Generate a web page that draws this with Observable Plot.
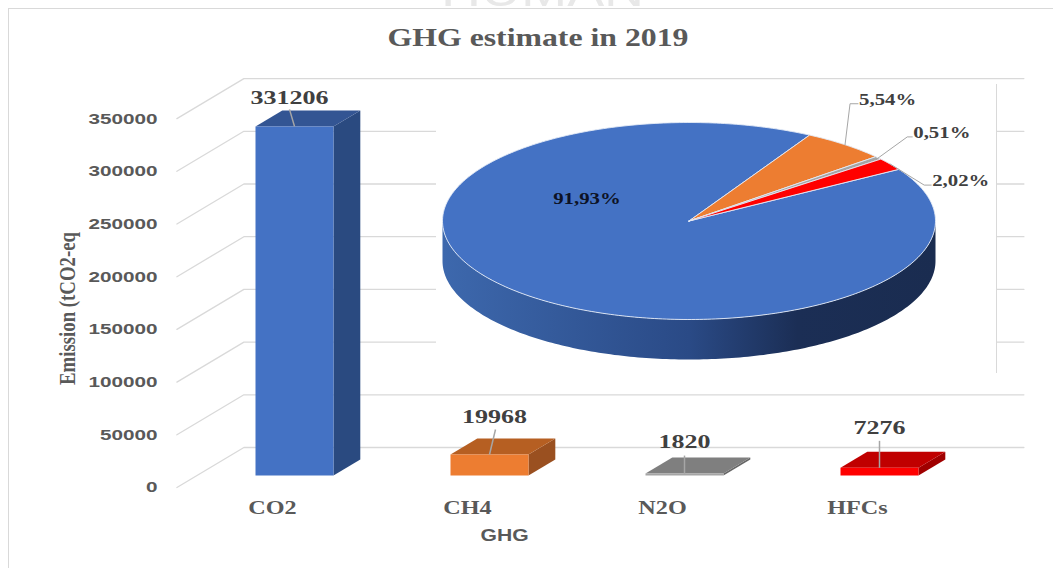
<!DOCTYPE html>
<html>
<head>
<meta charset="utf-8">
<script src="https://cdn.jsdelivr.net/npm/d3@7"></script>
<script src="https://cdn.jsdelivr.net/npm/@observablehq/plot@0.6"></script>
<style>
  html, body { margin: 0; padding: 0; background: #fff; }
  #page { position: relative; width: 1053px; height: 568px; overflow: hidden; }
  #edge { position: absolute; left: 8px; top: 8px; right: 0; bottom: 0;
          border-left: 1.5px solid #d9d9d9; border-top: 1.5px solid #d9d9d9; }
  #page svg { position: absolute; }
</style>
</head>
<body>
<div id="page"><div id="edge"></div></div>
<script>
// Emissions by gas
const gases = ["CO2", "CH4", "N2O", "HFCs"];
const emissions = [331206, 19968, 1820, 7276];
const yTicks = [0, 50000, 100000, 150000, 200000, 250000, 300000, 350000];

// Share of the total by gas
const shares = [91.93, 5.54, 0.51, 2.02];
const shareLabels = ["91,93%", "5,54%", "0,51%", "2,02%"];

// Fill colours of each gas: front, top and side faces
const frontColors = ["#4472c4", "#ed7d31", "#a5a5a5", "#ff0000"];
const topColors = ["#335593", "#b65f22", "#7f7f7f", "#c00000"];
const sideColors = ["#2a4a80", "#9a5020", "#666666", "#a00000"];

const titleText = "GHG estimate in 2019";
const yTitle = "Emission (tCO2-eq";
const xTitle = "GHG";
const serif = "'Liberation Serif', serif";
const sans = "'Liberation Sans', sans-serif";
const gray = "#595959";

// Scales of the column chart
const xDomain = [0, 3], xRange = [294, 879];
const yDomain = [0, 350000], yRange = [475, 106.1];
const pxPerX = (xRange[1] - xRange[0]) / (xDomain[1] - xDomain[0]);
const pxPerY = (yRange[0] - yRange[1]) / (yDomain[1] - yDomain[0]);

// Oblique projection: one depth unit moves a point 26.8px right and 16px up
const depthX = 26.8 / pxPerX, depthY = 16 / pxPerY;
const halfWidth = 39 / pxPerX;
const project = (i, v, t) => ({x: i + t * depthX, y: v + t * depthY});

// Floor front edge, back wall and right end of the value grid
const gridLines = yTicks.flatMap((v) => [
  {...project(-0.5, v, -0.75), z: v},
  {...project(-0.5, v, 1.75), z: v},
  {...project(3.5, v, 1.75), z: v}
]);

// The three visible faces of a column
const faces = gases.flatMap((g, k) => {
  const a = k - halfWidth, b = k + halfWidth, v = emissions[k];
  const face = (name, color, pts) =>
    [...pts, pts[0]].map((p) => ({...p, z: g + name, color}));
  return [
    ...face("side", sideColors[k], [project(b, 0, 0), project(b, 0, 1), project(b, v, 1), project(b, v, 0)]),
    ...face("top", topColors[k], [project(a, v, 0), project(a, v, 1), project(b, v, 1), project(b, v, 0)]),
    ...face("front", frontColors[k], [project(a, 0, 0), project(a, v, 0), project(b, v, 0), project(b, 0, 0)])
  ];
});

// Value label placement, in pixels from the top of each column's front face
const leaderEnd = [[-5, 17], [6, 25], [0, 18], [0, 27]];
const labelShift = [[-5, -29], [5, -38], [0, -32], [0, -40]];

const columnRows = gases.map((g, k) => ({
  k, value: emissions[k],
  tipX: k + leaderEnd[k][0] / pxPerX,
  tipY: emissions[k] + leaderEnd[k][1] / pxPerY
}));

const chart = Plot.plot({
  width: 1053,
  height: 568,
  marginLeft: 157,
  marginRight: 0,
  marginTop: 0,
  marginBottom: 73,
  style: {background: "transparent", left: "0", top: "0"},
  x: {domain: xDomain, range: xRange},
  y: {domain: yDomain, range: yRange},
  color: {type: "identity"},
  marks: [
    Plot.line(gridLines, {x: "x", y: "y", z: "z", stroke: "#d9d9d9", strokeWidth: 1.3}),
    Plot.line(faces, {x: "x", y: "y", z: "z", fill: "color", stroke: "none"}),
    Plot.link(columnRows, {x1: "k", y1: "value", x2: "tipX", y2: "tipY", stroke: "#a6a6a6", strokeWidth: 1.5}),
    ...columnRows.map((d) => Plot.text([d], {
      x: "k", y: "value", text: (r) => String(r.value),
      dx: labelShift[d.k][0], dy: labelShift[d.k][1],
      fontFamily: serif, fontWeight: 700, fontSize: 19, fill: "#404040"
    })),
    Plot.axisY({
      anchor: "left", ticks: yTicks, tickSize: 0, tickPadding: 0, label: null, dy: 12,
      tickFormat: (v) => String(v), fontFamily: sans, fontWeight: 700, fontSize: 15.5, color: gray
    }),
    Plot.axisX({
      anchor: "bottom", ticks: [0, 1, 2, 3], tickSize: 0, tickPadding: 5, label: null, dx: -22,
      tickFormat: (i) => gases[i], fontFamily: serif, fontWeight: 700, fontSize: 19.5, color: gray
    }),
    Plot.text([titleText], {x: 1, y: 350000, text: (d) => d, dx: 48.5, dy: -69,
      fontFamily: serif, fontWeight: 700, fontSize: 26, fill: gray}),
    Plot.text([yTitle], {x: 0, y: 0, text: (d) => d, dx: -227, dy: -167, rotate: -90,
      fontFamily: serif, fontWeight: 700, fontSize: 24, fill: gray}),
    Plot.text([xTitle], {x: 1, y: 0, text: (d) => d, dx: 15, dy: 60,
      fontFamily: sans, fontWeight: 700, fontSize: 16, fill: gray}),
    Plot.text(["HUMAN"], {x: 1, y: 350000, text: (d) => d, dx: 53, dy: -101, lineAnchor: "bottom",
      fontFamily: sans, fontSize: 44, fill: "#e8e8e8"})
  ]
});

// Pie inset: a unit circle squashed into an ellipse by its own scales
const pieSize = {width: 560, height: 289};
const pieX = {domain: [-1, 1], range: [6, 499]};
const pieY = {domain: [-1, 1], range: [235, 38]};
const uX = 2 / 493, uY = 2 / 197;
const pieDepth = 40 * uY;

// The first slice ends about 29 degrees clockwise of north
const firstEnd = 29.3 * Math.PI / 180;
const firstStart = firstEnd - 2 * Math.PI * shares[0] / 100;
const arcs = d3.pie().sort(null).value((d) => d)
  .startAngle(firstStart).endAngle(firstStart + 2 * Math.PI)(shares);

const onRim = (a) => ({x: Math.sin(a), y: Math.cos(a)});
const arcPoints = (a0, a1) => {
  const n = Math.max(2, Math.ceil(Math.abs(a1 - a0) * 60));
  return d3.range(n + 1).map((j) => onRim(a0 + (a1 - a0) * j / n));
};

const slices = arcs.flatMap((arc, k) =>
  [{x: 0, y: 0}, ...arcPoints(arc.startAngle, arc.endAngle), {x: 0, y: 0}]
    .map((p) => ({...p, z: k, color: frontColors[k]})));

// Rim wall below the front half of the ellipse
const rimTop = arcPoints(Math.PI / 2, 3 * Math.PI / 2);
const rimWall = [...rimTop, ...rimTop.slice().reverse().map((p) => ({x: p.x, y: p.y - pieDepth}))];

// Callouts, in pixels from the middle of each slice's rim
const calloutBends = [null, [[5, -41], [13, -41]], [[29, -21], [34, -21]], [[34, 21], [41, 21]]];
const callouts = arcs.flatMap((arc, k) => {
  if (!calloutBends[k]) return [];
  const start = onRim((arc.startAngle + arc.endAngle) / 2);
  const pts = calloutBends[k].map(([dx, dy]) => ({x: start.x + dx * uX, y: start.y - dy * uY}));
  return [start, ...pts].map((p) => ({...p, z: k}));
});
const calloutTexts = arcs.flatMap((arc, k) => {
  if (!calloutBends[k]) return [];
  const start = onRim((arc.startAngle + arc.endAngle) / 2);
  const [dx, dy] = calloutBends[k][1];
  return [{x: start.x + dx * uX, y: start.y - dy * uY, label: shareLabels[k]}];
});

const pie = Plot.plot({
  ...pieSize,
  margin: 0,
  style: {left: "436px", top: "84px", background: "#fff", borderRight: "1.3px solid #d9d9d9"},
  x: {...pieX, axis: null},
  y: {...pieY, axis: null},
  color: {type: "identity"},
  marks: [
    Plot.line(rimWall, {x: "x", y: "y", fill: "url(#pieRim)", stroke: "none"}),
    Plot.line(slices, {x: "x", y: "y", z: "z", fill: "color", stroke: "#e4ebf6", strokeWidth: 0.9}),
    Plot.line(callouts, {x: "x", y: "y", z: "z", stroke: "#a6a6a6", strokeWidth: 1}),
    Plot.text(calloutTexts, {x: "x", y: "y", text: "label", textAnchor: "start", dx: 1, dy: -4,
      fontFamily: serif, fontWeight: 700, fontSize: 16.5, fill: "#404040"}),
    Plot.text([shareLabels[0]], {x: 0, y: 0, text: (d) => d, dx: -102, dy: -22,
      fontFamily: serif, fontWeight: 700, fontSize: 16.5, fill: "#0d1226"})
  ]
});

// Shading of the pie's rim, lit from the left
const rimGradient = d3.select(pie).insert("defs", ":first-child")
  .append("linearGradient").attr("id", "pieRim");
[[0, "#3d68ad"], [0.5, "#2a4a86"], [0.72, "#1b2e55"], [1, "#1a2c50"]].forEach(([o, c]) =>
  rimGradient.append("stop").attr("offset", o).attr("stop-color", c));

const page = document.getElementById("page");
page.append(chart, pie);

// All lettering is set wide, by an amount that depends on its size
const widthBySize = {"19": 1.37, "19.5": 1.24, "15.5": 1.336, "26": 1.222, "16": 1.32, "44": 1.26, "16.5": 1.26};
for (const svg of [chart, pie]) {
  d3.select(svg).selectAll("text").each(function () {
    const size = parseFloat(getComputedStyle(this).fontSize);
    const length = this.textContent === yTitle ? 153 : this.getComputedTextLength() * widthBySize[String(size)];
    this.setAttribute("textLength", length);
    this.setAttribute("lengthAdjust", "spacingAndGlyphs");
  });
}
</script>
</body>
</html>
